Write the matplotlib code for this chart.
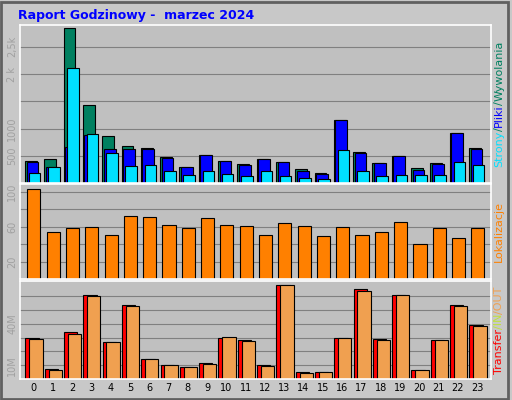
import matplotlib.pyplot as plt
from matplotlib.patches import Rectangle

hours = list(range(24))
hits = [412, 437, 2850, 1425, 862, 675, 637, 469, 300, 506, 412, 356,
        437, 394, 250, 187, 1162, 562, 375, 487, 281, 375, 919, 637]
files = [394, 300, 662, 881, 625, 625, 619, 450, 300, 506, 412, 337,
         437, 394, 225, 169, 1162, 544, 375, 487, 244, 356, 919, 619]
pages = [187, 300, 2119, 900, 544, 319, 337, 225, 150, 225, 169, 131,
         225, 131, 94, 75, 600, 225, 131, 150, 150, 150, 394, 337]
sites = [103, 54, 58, 60, 50, 72, 71, 62, 58, 70, 62, 61,
         51, 64, 61, 49, 60, 51, 54, 65, 40, 58, 47, 58]
kbytes = [29.5, 7, 34, 61, 26.5, 53.5, 14.5, 10, 8.5, 11.5, 30, 28,
          10, 68, 4.8, 4.8, 30, 65, 29, 61, 6.3, 28, 53.5, 39]
kb_in = [28.8, 6.3, 32.5, 60.3, 26.5, 52.8, 14.5, 10, 8.5, 10.8, 30.3, 27.3,
         9.3, 67.8, 4, 4.8, 29.5, 64, 28, 61, 6.3, 28, 52.8, 38.5]

GREEN, BLUE, CYAN = "#008060", "#0000ff", "#00e0ff"
ORANGE, RED, LORANGE = "#ff8000", "#ff0000", "#f0a050"
GRAY = "#a0a0a0"

fig = plt.figure(figsize=(5.12, 4.0), dpi=100, facecolor="#c8c8c8")
fig.patches.append(Rectangle((0.002, 0.003), 0.99, 0.992, transform=fig.transFigure,
                             fill=False, edgecolor="#606060", linewidth=2))
fig.text(0.035, 0.962, "Raport Godzinowy -  marzec 2024", color="#0000ff",
         fontsize=9, fontweight="bold", va="center")

W, H = 512, 400
XMAX = 24.4
def panel(y0, y1):
    ax = fig.add_axes([20 / W, 1 - y1 / H, 471 / W, (y1 - y0) / H])
    ax.set_facecolor("#c0c0c0")
    ax.set_xlim(0, XMAX)
    for s in ax.spines.values():
        s.set_color("white")
        s.set_linewidth(1.2)
    ax.tick_params(axis="y", length=0, labelsize=7, labelcolor=GRAY, pad=2)
    ax.tick_params(axis="x", length=0)
    ax.set_axisbelow(True)
    return ax

def bars(ax, vals, off, w, color):
    ax.bar([h + off for h in hours], vals, width=w, align="edge",
           color=color, edgecolor="black", linewidth=0.8)

ax1 = panel(25, 183)
ax1.set_ylim(0, 2900)
for g in [500, 1000, 1500, 2000, 2500]:
    ax1.axhline(g, color="#808080", linewidth=0.8, zorder=0)
ax1.set_yticks([500, 1000, 2000, 2500])
ax1.set_yticklabels(["500", "1000", "2 k", "2,5k"], rotation=90, va="center")
bars(ax1, hits, 0.26, 0.61, GREEN)
bars(ax1, files, 0.34, 0.61, BLUE)
bars(ax1, pages, 0.46, 0.6, CYAN)
ax1.set_xticks([])

ax2 = panel(184, 279)
ax2.set_ylim(0, 109)
for g in [20, 40, 60, 80, 100]:
    ax2.axhline(g, color="#808080", linewidth=0.8, zorder=0)
ax2.set_yticks([20, 60, 100])
ax2.set_yticklabels(["20", "60", "100"], rotation=90, va="center")
bars(ax2, sites, 0.38, 0.68, ORANGE)
ax2.set_xticks([])

ax3 = panel(281, 379)
ax3.set_ylim(0, 71)
for g in [10, 20, 30, 40, 50, 60]:
    ax3.axhline(g, color="#808080", linewidth=0.8, zorder=0)
ax3.set_yticks([10, 40])
ax3.set_yticklabels(["10M", "40M"], rotation=90, va="center")
bars(ax3, kbytes, 0.28, 0.69, RED)
bars(ax3, kb_in, 0.48, 0.69, LORANGE)
ax3.set_xticks([h + 0.69 for h in hours])
ax3.set_xticklabels([str(h) for h in hours], fontsize=7)
ax3.tick_params(axis="x", pad=3)

# right side labels, stacked by measured extents
renderer = fig.canvas.get_renderer()
def vlabel(parts, ycenter):
    texts = [fig.text(0.975, 0, t, color=c, rotation=90, fontsize=8,
                      ha="center", va="bottom") for t, c in parts]
    heights = [t.get_window_extent(renderer).height / (H) for t in texts]
    y = ycenter - sum(heights) / 2
    for t, h in zip(texts, heights):
        t.set_y(y)
        y += h

vlabel([("Strony", CYAN), ("/", GREEN), ("Pliki", BLUE), ("/", GREEN),
        ("Wywolania", GREEN)], 1 - 104 / H)
vlabel([("Lokalizacje", ORANGE)], 1 - 231 / H)
vlabel([("Transfer", RED), ("/IN", "#c0e040"), ("/OUT", LORANGE)], 1 - 330 / H)

fig.savefig("out.png", dpi=100, facecolor=fig.get_facecolor())
